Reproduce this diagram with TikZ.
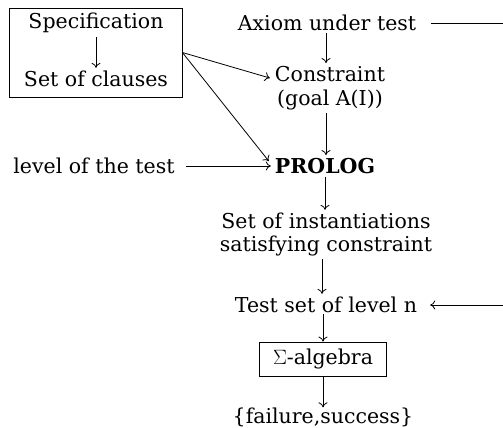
\documentclass[tikz,border=0pt]{standalone}
\usepackage{fontspec}
\setmainfont{DejaVu Serif}
\usetikzlibrary{arrows.meta}
\begin{document}
\begin{tikzpicture}[x=1pt,y=-1pt,
  lbl/.style={inner sep=1pt,font=\fontsize{20.5}{24}\selectfont},
  conn/.style={line width=0.8pt,-{To[length=5pt,width=9pt]}},
  plainline/.style={line width=0.8pt},
  boxed/.style={draw,line width=0.8pt}]
\useasboundingbox (0,0) rectangle (503,428);
\node[boxed,minimum width=173pt,minimum height=89pt,inner sep=0pt] (specbox) at (95.5,52.5) {};
\node[lbl] (spec) at (96,23) {Specification};
\node[lbl] (clauses) at (96,79) {Set of clauses};
\node[lbl] (axiom) at (327,23) {Axiom under test};
\node[lbl] (constraint) at (330,74) {Constraint};
\node[lbl] (goal) at (330,100) {(goal A(I))};
\node[lbl] (level) at (94,166) {level of the test};
\node[lbl,font=\fontsize{20.5}{24}\selectfont\bfseries] (prolog) at (325,166) {PROLOG};
\node[lbl] (inst) at (326,221) {Set of instantiations};
\node[lbl] (sat) at (326,246) {satisfying constraint};
\node[lbl] (test) at (326,305) {Test set of level n};
\node[lbl,boxed,minimum width=127pt,minimum height=34pt] (sigma) at (323,359) {$\Sigma$-algebra};
\node[lbl] (fs) at (323,417) {\{failure,success\}};
\coordinate (axr) at (503,23);
\coordinate (tr) at (503,305);
\draw[conn] ([yshift=-3pt]spec.south) -- ([yshift=2pt]spec.south |- clauses.north);
\draw[conn] ([xshift=-1pt,yshift=-1pt]axiom.south) -- ([xshift=-1pt,yshift=2pt]axiom.south |- constraint.north);
\draw[conn] (specbox.east) -- ([xshift=-4pt,yshift=-4pt]constraint.west);
\draw[conn] (specbox.east) -- ([xshift=-5pt,yshift=-4pt]prolog.north west);
\draw[conn] ([xshift=10pt]level.east) -- ([xshift=-3pt]prolog.west);
\draw[conn] ([xshift=-4pt,yshift=-2pt]goal.south) -- ([xshift=-4pt,yshift=2pt]goal.south |- prolog.north);
\draw[conn] ([yshift=-2pt]prolog.south) -- ([yshift=2pt]prolog.south |- inst.north);
\draw[conn] ([xshift=-4pt,yshift=-2pt]sat.south) -- ([xshift=-4pt,yshift=2pt]sat.south |- test.north);
\draw[conn] (sigma.north |- test.south) -- (sigma.north);
\draw[conn] (sigma.south) -- ([yshift=-1pt]fs.north);
\draw[plainline] ([xshift=14pt]axiom.east) -- (axiom.east -| axr);
\draw[conn] (tr) -- ([xshift=12pt]tr -| test.east);
\end{tikzpicture}
\end{document}
